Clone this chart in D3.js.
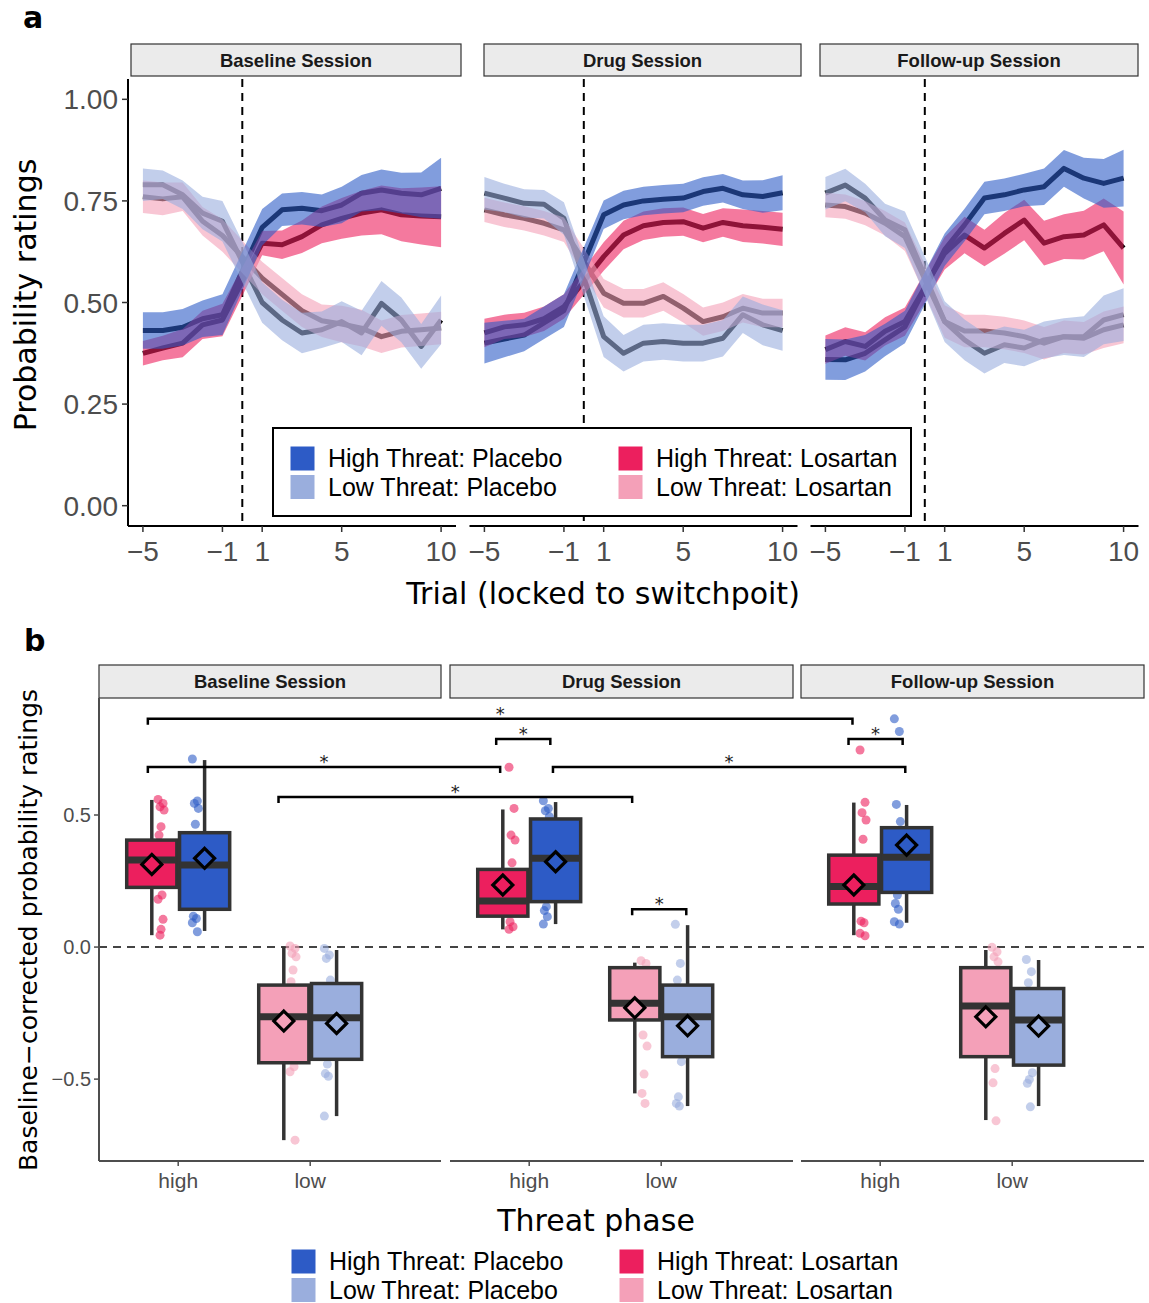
<!DOCTYPE html>
<html>
<head>
<meta charset="utf-8">
<script src="https://cdn.jsdelivr.net/npm/d3@7"></script>
<style>
  body { margin: 0; background: #fff; }
  svg { display: block; }
</style>
</head>
<body>
<div id="chart"></div>
<script>
// ---------- data: panel a (trial-locked probability ratings) ----------
var trials = [-5, -4, -3, -2, -1, 1, 2, 3, 4, 5, 6, 7, 8, 9, 10];
var sessions = ["Baseline Session", "Drug Session", "Follow-up Session"];
var groups = ["High Threat: Placebo", "Low Threat: Placebo", "High Threat: Losartan", "Low Threat: Losartan"];
var xTicksA = [-5, -1, 1, 5, 10];
var yTicksA = [0, 0.25, 0.5, 0.75, 1];

var baselineHighPlacebo   = [0.431, 0.431, 0.439, 0.46, 0.47, 0.685, 0.728, 0.732, 0.726, 0.74, 0.769, 0.777, 0.769, 0.765, 0.781];
var baselineHighPlaceboSE = [0.045, 0.045, 0.045, 0.045, 0.05, 0.045, 0.04, 0.04, 0.04, 0.045, 0.045, 0.05, 0.05, 0.055, 0.075];
var baselineLowPlacebo    = [0.79, 0.79, 0.765, 0.72, 0.70, 0.50, 0.457, 0.425, 0.433, 0.453, 0.425, 0.498, 0.457, 0.392, 0.457];
var baselineLowPlaceboSE  = [0.04, 0.035, 0.035, 0.04, 0.05, 0.05, 0.05, 0.05, 0.045, 0.05, 0.055, 0.055, 0.055, 0.055, 0.06];
var baselineHighLosartan   = [0.375, 0.388, 0.40, 0.445, 0.457, 0.646, 0.642, 0.662, 0.691, 0.707, 0.72, 0.728, 0.716, 0.713, 0.711];
var baselineHighLosartanSE = [0.03, 0.03, 0.035, 0.035, 0.04, 0.03, 0.035, 0.04, 0.045, 0.05, 0.055, 0.06, 0.065, 0.07, 0.075];
var baselineLowLosartan    = [0.76, 0.755, 0.76, 0.70, 0.665, 0.56, 0.52, 0.48, 0.455, 0.447, 0.437, 0.416, 0.429, 0.433, 0.437];
var baselineLowLosartanSE  = [0.04, 0.04, 0.035, 0.035, 0.04, 0.04, 0.04, 0.04, 0.04, 0.045, 0.045, 0.04, 0.04, 0.04, 0.04];

var drugHighPlacebo   = [0.40, 0.41, 0.42, 0.45, 0.48, 0.716, 0.74, 0.75, 0.754, 0.757, 0.773, 0.781, 0.765, 0.761, 0.77];
var drugHighPlaceboSE = [0.05, 0.045, 0.04, 0.04, 0.04, 0.035, 0.035, 0.035, 0.035, 0.035, 0.035, 0.035, 0.035, 0.04, 0.043];
var drugLowPlacebo    = [0.769, 0.757, 0.744, 0.742, 0.707, 0.416, 0.375, 0.40, 0.404, 0.40, 0.40, 0.412, 0.47, 0.445, 0.431];
var drugLowPlaceboSE  = [0.04, 0.035, 0.035, 0.035, 0.04, 0.05, 0.045, 0.045, 0.045, 0.045, 0.045, 0.045, 0.045, 0.05, 0.05];
var drugHighLosartan   = [0.425, 0.44, 0.445, 0.46, 0.49, 0.613, 0.666, 0.689, 0.697, 0.699, 0.683, 0.697, 0.689, 0.685, 0.68];
var drugHighLosartanSE = [0.035, 0.03, 0.03, 0.03, 0.03, 0.035, 0.035, 0.035, 0.035, 0.035, 0.035, 0.035, 0.04, 0.04, 0.041];
var drugLowLosartan    = [0.728, 0.716, 0.707, 0.695, 0.679, 0.523, 0.498, 0.498, 0.515, 0.486, 0.453, 0.465, 0.486, 0.474, 0.474];
var drugLowLosartanSE  = [0.03, 0.03, 0.03, 0.03, 0.03, 0.035, 0.035, 0.035, 0.035, 0.035, 0.035, 0.035, 0.035, 0.035, 0.035];

var followHighPlacebo   = [0.36, 0.359, 0.375, 0.408, 0.44, 0.63, 0.691, 0.757, 0.765, 0.777, 0.785, 0.83, 0.806, 0.793, 0.806];
var followHighPlaceboSE = [0.05, 0.05, 0.045, 0.04, 0.04, 0.04, 0.04, 0.04, 0.04, 0.04, 0.045, 0.045, 0.05, 0.06, 0.07];
var followLowPlacebo    = [0.769, 0.789, 0.757, 0.703, 0.679, 0.453, 0.408, 0.375, 0.396, 0.388, 0.408, 0.416, 0.416, 0.457, 0.47];
var followLowPlaceboSE  = [0.04, 0.04, 0.035, 0.04, 0.045, 0.05, 0.05, 0.05, 0.045, 0.045, 0.045, 0.045, 0.05, 0.06, 0.065];
var followHighLosartan   = [0.384, 0.404, 0.392, 0.429, 0.453, 0.621, 0.666, 0.634, 0.67, 0.703, 0.646, 0.662, 0.666, 0.691, 0.634];
var followHighLosartanSE = [0.035, 0.035, 0.035, 0.035, 0.035, 0.04, 0.045, 0.045, 0.05, 0.05, 0.055, 0.055, 0.06, 0.065, 0.09];
var followLowLosartan    = [0.74, 0.736, 0.72, 0.695, 0.662, 0.453, 0.43, 0.43, 0.425, 0.416, 0.40, 0.416, 0.412, 0.433, 0.445];
var followLowLosartanSE  = [0.03, 0.03, 0.03, 0.03, 0.035, 0.04, 0.04, 0.04, 0.04, 0.04, 0.04, 0.04, 0.04, 0.045, 0.045];

// ---------- data: panel b (baseline-corrected ratings) ----------
var phases = ["high", "low"];
var yTicksB = [-0.5, 0, 0.5];
// box stats: [lower whisker, q1, median, q3, upper whisker, mean]
var baselineHighLosartanBox = [0.045, 0.226, 0.330, 0.405, 0.557, 0.313];
var baselineHighPlaceboBox  = [0.061, 0.143, 0.311, 0.433, 0.708, 0.336];
var baselineLowLosartanBox  = [-0.731, -0.438, -0.264, -0.144, 0.001, -0.280];
var baselineLowPlaceboBox   = [-0.640, -0.425, -0.268, -0.138, -0.011, -0.289];
var drugHighLosartanBox = [0.067, 0.117, 0.174, 0.294, 0.521, 0.235];
var drugHighPlaceboBox  = [0.087, 0.172, 0.336, 0.485, 0.549, 0.323];
var drugLowLosartanBox  = [-0.554, -0.276, -0.213, -0.078, -0.059, -0.230];
var drugLowPlaceboBox   = [-0.602, -0.415, -0.264, -0.144, 0.083, -0.298];
var followHighLosartanBox = [0.045, 0.163, 0.229, 0.348, 0.547, 0.235];
var followHighPlaceboBox  = [0.092, 0.207, 0.340, 0.452, 0.538, 0.386];
var followLowLosartanBox  = [-0.655, -0.415, -0.223, -0.078, -0.011, -0.264];
var followLowPlaceboBox   = [-0.602, -0.447, -0.276, -0.157, -0.049, -0.299];

// individual participants (those visible outside the boxes)
var baselineHighLosartanPts = [0.559, 0.544, 0.531, 0.519, 0.456, 0.424, 0.197, 0.181, 0.105, 0.067, 0.045];
var baselineHighPlaceboPts  = [0.712, 0.553, 0.544, 0.525, 0.465, 0.117, 0.108, 0.092, 0.058];
var baselineLowLosartanPts  = [0.004, -0.005, -0.024, -0.037, -0.087, -0.131, -0.453, -0.472, -0.731];
var baselineLowPlaceboPts   = [-0.005, -0.030, -0.043, -0.125, -0.443, -0.479, -0.489, -0.640];
var drugHighLosartanPts = [0.681, 0.525, 0.424, 0.405, 0.319, 0.096, 0.077, 0.067];
var drugHighPlaceboPts  = [0.554, 0.525, 0.516, 0.494, 0.153, 0.138, 0.115, 0.087];
var drugLowLosartanPts  = [-0.052, -0.062, -0.333, -0.375, -0.481, -0.554, -0.592];
var drugLowPlaceboPts   = [0.086, -0.062, -0.125, -0.434, -0.567, -0.592, -0.602];
var followHighLosartanPts = [0.746, 0.548, 0.509, 0.481, 0.408, 0.098, 0.092, 0.052, 0.043];
var followHighPlaceboPts  = [0.864, 0.816, 0.540, 0.475, 0.197, 0.165, 0.143, 0.096, 0.087];
var followLowLosartanPts  = [-0.001, -0.018, -0.037, -0.056, -0.460, -0.514, -0.658];
var followLowPlaceboPts   = [-0.047, -0.093, -0.135, -0.476, -0.501, -0.516, -0.605];

// significance brackets: [from session, from x, to session, to x, height]
var brackets = [
  [0, 0.77, 2, 0.79, 0.864],
  [0, 0.77, 1, 0.78, 0.682],
  [0, 1.76, 1, 1.78, 0.568],
  [1, 0.75, 1, 1.16, 0.788],
  [1, 1.18, 2, 1.19, 0.682],
  [1, 1.78, 1, 2.19, 0.143],
  [2, 0.76, 2, 1.17, 0.788]
];

// ---------- lookups built from the arrays ----------
var meansA = [
  [baselineHighPlacebo, baselineLowPlacebo, baselineHighLosartan, baselineLowLosartan],
  [drugHighPlacebo, drugLowPlacebo, drugHighLosartan, drugLowLosartan],
  [followHighPlacebo, followLowPlacebo, followHighLosartan, followLowLosartan]
];
var seA = [
  [baselineHighPlaceboSE, baselineLowPlaceboSE, baselineHighLosartanSE, baselineLowLosartanSE],
  [drugHighPlaceboSE, drugLowPlaceboSE, drugHighLosartanSE, drugLowLosartanSE],
  [followHighPlaceboSE, followLowPlaceboSE, followHighLosartanSE, followLowLosartanSE]
];
// per session: [phase, drug, group index, box stats, points]
var boxesB = [
  [["high", "Losartan", 2, baselineHighLosartanBox, baselineHighLosartanPts],
   ["high", "Placebo", 0, baselineHighPlaceboBox, baselineHighPlaceboPts],
   ["low", "Losartan", 3, baselineLowLosartanBox, baselineLowLosartanPts],
   ["low", "Placebo", 1, baselineLowPlaceboBox, baselineLowPlaceboPts]],
  [["high", "Losartan", 2, drugHighLosartanBox, drugHighLosartanPts],
   ["high", "Placebo", 0, drugHighPlaceboBox, drugHighPlaceboPts],
   ["low", "Losartan", 3, drugLowLosartanBox, drugLowLosartanPts],
   ["low", "Placebo", 1, drugLowPlaceboBox, drugLowPlaceboPts]],
  [["high", "Losartan", 2, followHighLosartanBox, followHighLosartanPts],
   ["high", "Placebo", 0, followHighPlaceboBox, followHighPlaceboPts],
   ["low", "Losartan", 3, followLowLosartanBox, followLowLosartanPts],
   ["low", "Placebo", 1, followLowPlaceboBox, followLowPlaceboPts]]
];

// ---------- styles ----------
var fills = ["#2D5BC6", "#9AAEDD", "#EC1F5E", "#F4A0B8"];
var ribbonOrder = [2, 3, 0, 1]; // losartan first, placebo on top
var tickFont = "'Liberation Sans', Arial, sans-serif";
var titleFont = "'DejaVu Sans', sans-serif";
var minus = function(v, f) { var s = f ? d3.format(f)(Math.abs(v)) : String(Math.abs(v)); return v < 0 ? "\u2212" + s : s; };

var svg = d3.select('#chart').append('svg')
  .attr('width', 1149)
  .attr('height', 1303);

// ================= panel a =================
var facetA = [[128, 456], [469.5, 797.5], [810.5, 1138.5]];
var stripA = [[131, 461], [484, 801], [820, 1138]];
var yA = d3.scaleLinear().domain([-0.05, 1.05]).range([526, 79]);

svg.append('text').attr('x', 23).attr('y', 28)
  .style('font-family', titleFont).style('font-weight', 'bold').style('font-size', '30px')
  .text('a');

sessions.forEach(function(s, i) {
  var x = d3.scaleLinear().domain([-5.75, 10.75]).range(facetA[i]);
  var g = svg.append('g');

  // strip
  g.append('rect').attr('x', stripA[i][0]).attr('y', 44)
    .attr('width', stripA[i][1] - stripA[i][0]).attr('height', 32)
    .attr('fill', '#EBEBEB').attr('stroke', '#333').attr('stroke-width', 1.2);
  g.append('text').attr('x', (stripA[i][0] + stripA[i][1]) / 2).attr('y', 67)
    .attr('text-anchor', 'middle')
    .style('font-family', tickFont).style('font-weight', 'bold').style('font-size', '18.5px')
    .style('fill', '#1A1A1A').text(s);

  // switch point
  g.append('line').attr('x1', x(0)).attr('x2', x(0)).attr('y1', 79).attr('y2', 526)
    .attr('stroke', '#000').attr('stroke-width', 2).attr('stroke-dasharray', '8,6');

  var rows = groups.map(function(gr, k) {
    return trials.map(function(t, j) { return {t: t, m: meansA[i][k][j], se: seA[i][k][j]}; });
  });

  // black mean lines first, ribbons drawn over them
  var line = d3.line().x(function(d) { return x(d.t); }).y(function(d) { return yA(d.m); });
  rows.forEach(function(r) {
    g.append('path').datum(r).attr('d', line)
      .attr('fill', 'none').attr('stroke', '#000').attr('stroke-width', 5)
      .attr('stroke-linejoin', 'round');
  });
  var area = d3.area().x(function(d) { return x(d.t); })
    .y0(function(d) { return yA(d.m - d.se); })
    .y1(function(d) { return yA(d.m + d.se); });
  ribbonOrder.forEach(function(k) {
    g.append('path').datum(rows[k]).attr('d', area)
      .attr('fill', fills[k]).attr('fill-opacity', 0.6);
  });

  // x axis
  g.append('line').attr('x1', facetA[i][0]).attr('x2', facetA[i][1]).attr('y1', 526).attr('y2', 526)
    .attr('stroke', '#000').attr('stroke-width', 2);
  var xt = g.selectAll('.xt').data(xTicksA).enter().append('g')
    .attr('transform', function(d) { return 'translate(' + x(d) + ',526)'; });
  xt.append('line').attr('y1', 0).attr('y2', 6).attr('stroke', '#333').attr('stroke-width', 1.5);
  xt.append('text').attr('y', 35).attr('text-anchor', 'middle')
    .style('font-family', tickFont).style('font-size', '28px').style('fill', '#4D4D4D')
    .text(function(d) { return minus(d); });
});

// y axis (panel a)
svg.append('line').attr('x1', 128).attr('x2', 128).attr('y1', 79).attr('y2', 526)
  .attr('stroke', '#000').attr('stroke-width', 2);
var ytA = svg.selectAll('.ytA').data(yTicksA).enter().append('g')
  .attr('transform', function(d) { return 'translate(128,' + yA(d) + ')'; });
ytA.append('line').attr('x1', -6).attr('x2', 0).attr('stroke', '#333').attr('stroke-width', 1.5);
ytA.append('text').attr('x', -10).attr('y', 10).attr('text-anchor', 'end')
  .style('font-family', tickFont).style('font-size', '28px').style('fill', '#4D4D4D')
  .text(function(d) { return d3.format('.2f')(d); });

svg.append('text').attr('transform', 'translate(36,295) rotate(-90)').attr('text-anchor', 'middle')
  .style('font-family', titleFont).style('font-size', '30px').text('Probability ratings');
svg.append('text').attr('x', 603).attr('y', 604).attr('text-anchor', 'middle')
  .style('font-family', titleFont).style('font-size', '30px').text('Trial (locked to switchpoit)');

// legend
function legend(x0, y0, boxed) {
  var lg = svg.append('g');
  if (boxed) {
    lg.append('rect').attr('x', x0 - 17).attr('y', y0 - 18).attr('width', 638).attr('height', 88)
      .attr('fill', '#fff').attr('stroke', '#000').attr('stroke-width', 2);
  }
  var order = [[0, 0, 0], [1, 0, 1], [2, 1, 0], [3, 1, 1]];
  order.forEach(function(o) {
    var kx = x0 + o[1] * 328, ky = y0 + o[2] * 28.5;
    lg.append('rect').attr('x', kx).attr('y', ky).attr('width', 25).attr('height', 25)
      .attr('fill', fills[o[0]]).attr('stroke', '#fff').attr('stroke-width', 1);
    lg.append('text').attr('x', kx + 38).attr('y', ky + 21)
      .style('font-family', tickFont).style('font-size', '25px').style('fill', '#000')
      .text(groups[o[0]]);
  });
}
legend(290, 446, true);

// ================= panel b =================
var facetB = [[99, 441], [450, 793], [801, 1144]];
var yB = d3.scaleLinear().domain([-0.81, 0.943]).range([1161, 698]);
var xB = facetB.map(function(f) { return d3.scaleLinear().domain([0.4, 0.4 + (f[1] - f[0]) / 132]).range(f); });
var jitter = [-3, 2, -1, 3, 0, -2, 1, -3, 2, 0, -1];

svg.append('text').attr('x', 24).attr('y', 651)
  .style('font-family', titleFont).style('font-weight', 'bold').style('font-size', '30px')
  .text('b');

sessions.forEach(function(s, i) {
  var x = xB[i];
  var f = facetB[i];
  var g = svg.append('g');

  g.append('rect').attr('x', f[0]).attr('y', 665).attr('width', f[1] - f[0]).attr('height', 33)
    .attr('fill', '#EBEBEB').attr('stroke', '#333').attr('stroke-width', 1.2);
  g.append('text').attr('x', (f[0] + f[1]) / 2).attr('y', 688).attr('text-anchor', 'middle')
    .style('font-family', tickFont).style('font-weight', 'bold').style('font-size', '18.5px')
    .style('fill', '#1A1A1A').text(s);

  // zero reference
  g.append('line').attr('x1', f[0]).attr('x2', f[1]).attr('y1', yB(0)).attr('y2', yB(0))
    .attr('stroke', '#444').attr('stroke-width', 2).attr('stroke-dasharray', '8,6');

  boxesB[i].forEach(function(b) {
    var pc = phases.indexOf(b[0]) + 1;
    var side = b[1] === 'Losartan' ? -1 : 1;
    var col = fills[b[2]];
    var st = b[3];
    var cx = x(pc + side * 0.2);
    var px = x(pc + side * 0.13);
    var hw = x(0.59) - x(0.4);

    g.selectAll(null).data(b[4]).enter().append('circle')
      .attr('cx', function(d, j) { return px + jitter[j % jitter.length]; })
      .attr('cy', function(d) { return yB(d); })
      .attr('r', 4.5).attr('fill', col).attr('fill-opacity', 0.6);

    g.append('line').attr('x1', cx).attr('x2', cx).attr('y1', yB(st[0])).attr('y2', yB(st[1]))
      .attr('stroke', '#333').attr('stroke-width', 3.5);
    g.append('line').attr('x1', cx).attr('x2', cx).attr('y1', yB(st[3])).attr('y2', yB(st[4]))
      .attr('stroke', '#333').attr('stroke-width', 3.5);
    g.append('rect').attr('x', cx - hw).attr('y', yB(st[3]))
      .attr('width', 2 * hw).attr('height', yB(st[1]) - yB(st[3]))
      .attr('fill', col).attr('stroke', '#333').attr('stroke-width', 3.5);
    g.append('line').attr('x1', cx - hw).attr('x2', cx + hw).attr('y1', yB(st[2])).attr('y2', yB(st[2]))
      .attr('stroke', '#333').attr('stroke-width', 7);
    var my = yB(st[5]), r = 10;
    g.append('path')
      .attr('d', 'M' + cx + ',' + (my - r) + 'L' + (cx + r) + ',' + my + 'L' + cx + ',' + (my + r) + 'L' + (cx - r) + ',' + my + 'Z')
      .attr('fill', col).attr('stroke', '#000').attr('stroke-width', 3.2);
  });

  // x axis
  g.append('line').attr('x1', f[0]).attr('x2', f[1]).attr('y1', 1161).attr('y2', 1161)
    .attr('stroke', '#4D4D4D').attr('stroke-width', 2);
  var xt = g.selectAll('.xt').data(phases).enter().append('g')
    .attr('transform', function(d, j) { return 'translate(' + x(j + 1) + ',1161)'; });
  xt.append('line').attr('y1', 0).attr('y2', 5).attr('stroke', '#4D4D4D').attr('stroke-width', 1.5);
  xt.append('text').attr('y', 27).attr('text-anchor', 'middle')
    .style('font-family', tickFont).style('font-size', '21px').style('fill', '#4D4D4D')
    .text(function(d) { return d; });
});

// y axis (panel b)
svg.append('line').attr('x1', 99).attr('x2', 99).attr('y1', 698).attr('y2', 1161)
  .attr('stroke', '#4D4D4D').attr('stroke-width', 2);
var ytB = svg.selectAll('.ytB').data(yTicksB).enter().append('g')
  .attr('transform', function(d) { return 'translate(99,' + yB(d) + ')'; });
ytB.append('line').attr('x1', -5).attr('x2', 0).attr('stroke', '#4D4D4D').attr('stroke-width', 1.5);
ytB.append('text').attr('x', -8).attr('y', 7).attr('text-anchor', 'end')
  .style('font-family', tickFont).style('font-size', '20px').style('fill', '#4D4D4D')
  .text(function(d) { return minus(d, '.1f'); });

// significance brackets span facets, so draw them on top
brackets.forEach(function(b) {
  var x0 = xB[b[0]](b[1]), x1 = xB[b[2]](b[3]), y = yB(b[4]);
  svg.append('path').attr('d', 'M' + x0 + ',' + (y + 6) + 'V' + y + 'H' + x1 + 'V' + (y + 6))
    .attr('fill', 'none').attr('stroke', '#000').attr('stroke-width', 2.5);
  svg.append('text').attr('x', (x0 + x1) / 2).attr('y', y + 1).attr('text-anchor', 'middle')
    .style('font-family', titleFont).style('font-size', '18px').style('fill', '#222').text('*');
});

svg.append('text').attr('transform', 'translate(37,930) rotate(-90)').attr('text-anchor', 'middle')
  .style('font-family', titleFont).style('font-size', '25px').text('Baseline\u2212corrected probability ratings');
svg.append('text').attr('x', 596).attr('y', 1231).attr('text-anchor', 'middle')
  .style('font-family', titleFont).style('font-size', '30px').text('Threat phase');

legend(291, 1249, false);
</script>
</body>
</html>
